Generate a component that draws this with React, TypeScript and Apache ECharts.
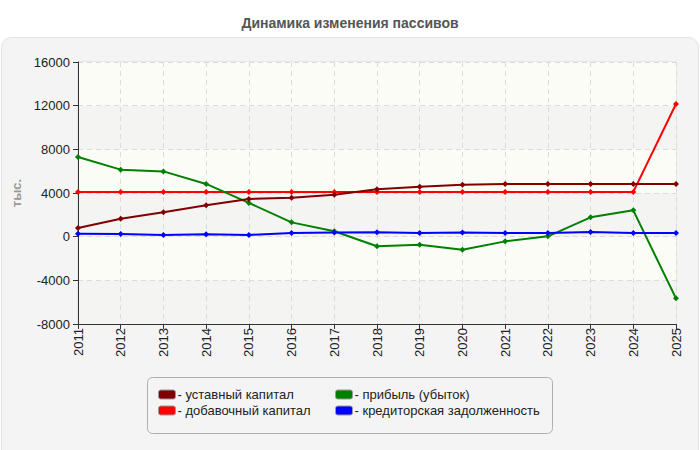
import React, { useEffect, useRef } from "react";
import * as echarts from "echarts";

const years = ["2011","2012","2013","2014","2015","2016","2017","2018","2019","2020","2021","2022","2023","2024","2025"];
const ustavny = [800, 1650, 2230, 2870, 3450, 3570, 3850, 4350, 4580, 4760, 4830, 4830, 4830, 4830, 4830];
const dobavochny = [4100, 4100, 4100, 4100, 4100, 4100, 4100, 4100, 4100, 4100, 4100, 4100, 4100, 4100, 12150];
const pribyl = [7300, 6140, 5980, 4830, 3090, 1310, 490, -880, -730, -1190, -430, 30, 1770, 2410, -5650];
const kreditor = [270, 250, 160, 210, 160, 340, 390, 400, 340, 390, 340, 340, 430, 340, 340];
const yTicks = { min: -8000, max: 16000, interval: 4000 };

const names = ["уставный капитал", "добавочный капитал", "прибыль (убыток)", "кредиторская задолженность"];
const colors = ["#800000", "#ff0000", "#008000", "#0000ff"];

export default function App() {
  const ref = useRef<HTMLDivElement>(null);
  useEffect(() => {
    if (!ref.current) return;
    const chart = echarts.init(ref.current, null, { renderer: "svg" });
    const font = "Arial, 'Liberation Sans', sans-serif";
    const dataSets = [ustavny, dobavochny, pribyl, kreditor];
    const legendCommon = {
      orient: "vertical" as const,
      icon: "roundRect",
      itemWidth: 17,
      itemHeight: 9,
      itemGap: 3,
      selectedMode: false,
      formatter: "- {name}",
      textStyle: { fontFamily: font, fontSize: 13, color: "#222", padding: [0, 0, 0, -3] },
      itemStyle: { borderColor: "#999", borderWidth: 1 },
      padding: 0,
    };
    chart.setOption({
      animation: false,
      backgroundColor: "#ffffff",
      title: {
        text: "Динамика изменения пассивов",
        left: "center",
        top: 11,
        textStyle: { fontFamily: font, fontSize: 14, fontWeight: "bold", color: "#555" },
      },
      graphic: [
        {
          type: "rect",
          z: -10,
          shape: { x: 1.5, y: 37.5, width: 697, height: 430, r: 10 },
          style: { fill: "#f4f4f4", stroke: "#e2e2e2", lineWidth: 1 },
        },
        {
          type: "rect",
          z: -5,
          shape: { x: 147.5, y: 377.5, width: 405, height: 56, r: 5 },
          style: { fill: "#f4f4f4", stroke: "#b0b0b0", lineWidth: 1 },
        },
      ],
      legend: [
        { ...legendCommon, left: 158, top: 388, data: [names[0], names[1]] },
        { ...legendCommon, left: 335, top: 388, data: [names[2], names[3]] },
      ],
      grid: {
        left: 78,
        right: 24,
        top: 62,
        bottom: 126,
        show: true,
        borderColor: "#dddddd",
        borderWidth: 1,
        backgroundColor: "transparent",
      },
      xAxis: {
        type: "category",
        data: years,
        boundaryGap: false,
        axisLine: { onZero: false, lineStyle: { color: "#333", width: 1 } },
        axisTick: { show: true, length: 5, lineStyle: { color: "#333" } },
        axisLabel: { rotate: 90, fontFamily: font, fontSize: 13, color: "#222", margin: 4 },
        splitLine: { show: true, lineStyle: { color: "#dcdcdc", type: [5, 4] } },
      },
      yAxis: {
        type: "value",
        min: yTicks.min,
        max: yTicks.max,
        interval: yTicks.interval,
        name: "тыс.",
        nameLocation: "middle",
        nameRotate: 90,
        nameGap: 50,
        nameTextStyle: { fontFamily: font, fontSize: 13, fontWeight: "bold", color: "#999" },
        axisLine: { show: true, lineStyle: { color: "#333", width: 1 } },
        axisTick: { show: true, length: 5, lineStyle: { color: "#333" } },
        axisLabel: { fontFamily: font, fontSize: 13, color: "#222", margin: 8, formatter: (v: number) => String(v) },
        splitLine: { show: true, lineStyle: { color: "#dcdcdc", type: [5, 4] } },
        splitArea: { show: true, areaStyle: { color: ["#f4f4f2", "#fcfcf6"] } },
      },
      series: names.map((n, i) => ({
        name: n,
        type: "line",
        data: dataSets[i],
        color: colors[i],
        symbol: "diamond",
        symbolSize: 6,
        lineStyle: { width: 2, color: colors[i] },
        itemStyle: { color: colors[i] },
        z: i === 0 ? 3 : 2,
      })),
    });
    return () => chart.dispose();
  }, []);
  return <div ref={ref} style={{ position: "absolute", left: 0, top: 0, width: 700, height: 450 }} />;
}
